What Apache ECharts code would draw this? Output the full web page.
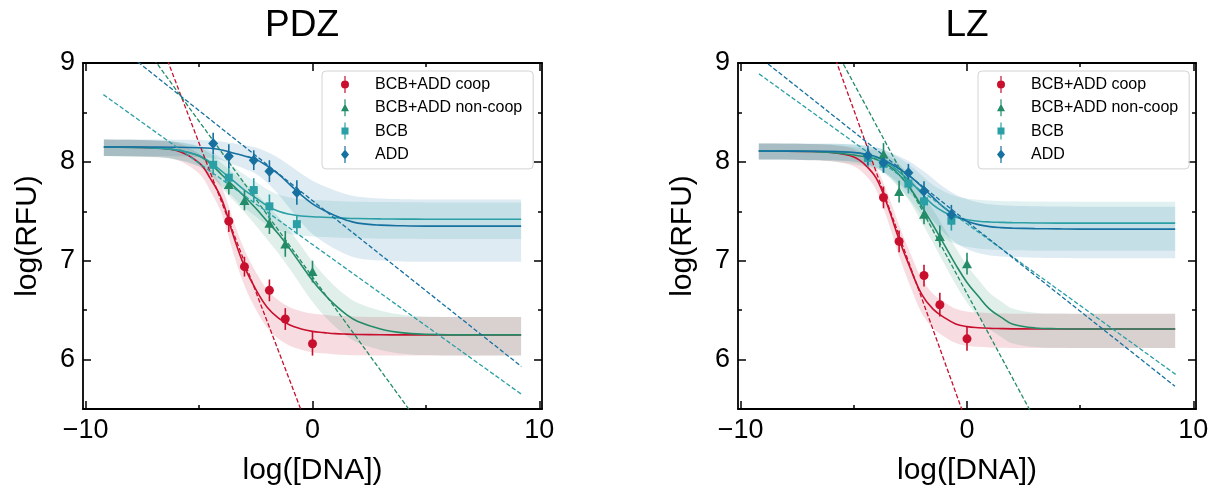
<!DOCTYPE html>
<html><head><meta charset="utf-8">
<script src="https://cdn.jsdelivr.net/npm/echarts@6/dist/echarts.min.js"></script>
<style>html,body{margin:0;padding:0;background:#fff}#c{width:1216px;height:493px}</style>
</head><body><div id="c"></div>
<script>
// ---------- labels ----------
const panelTitles = ['PDZ', 'LZ'];
const seriesNames = ['BCB+ADD coop', 'BCB+ADD non-coop', 'BCB', 'ADD'];
const xAxisTitle = 'log([DNA])';
const yAxisTitle = 'log(RFU)';
const xMajorTicks = [-10, 0, 10];
const xMinorTicks = [-5, 5];
const yMajorTicks = [6, 7, 8, 9];
const yMinorTicks = [6.5, 7.5, 8.5];

// ---------- measured points (x = log[DNA]) ----------
const conc5a = [-3.69, -3.0, -1.9, -1.2, 0];
const conc5b = [-4.38, -3.69, -2.59, -1.9, -0.69];

const pdzCoopY = [7.40, 6.94, 6.70, 6.41, 6.16];
const pdzCoopErr = [0.11, 0.10, 0.11, 0.11, 0.12];
const pdzNonCoopY = [7.77, 7.61, 7.38, 7.17, 6.89];
const pdzNonCoopErr = [0.10, 0.10, 0.11, 0.13, 0.11];
const pdzBcbY = [7.97, 7.84, 7.715, 7.55, 7.37];
const pdzBcbErr = [0.10, 0.11, 0.12, 0.12, 0.09];
const pdzAddY = [8.185, 8.057, 8.017, 7.906, 7.69];
const pdzAddErr = [0.11, 0.12, 0.10, 0.11, 0.125];

const lzCoopY = [7.64, 7.195, 6.85, 6.555, 6.21];
const lzCoopErr = [0.11, 0.11, 0.11, 0.12, 0.12];
const lzNonCoopY = [8.08, 7.70, 7.47, 7.245, 6.97];
const lzNonCoopErr = [0.11, 0.11, 0.10, 0.11, 0.11];
const lzBcbY = [8.04, 7.98, 7.78, 7.60, 7.405];
const lzBcbErr = [0.09, 0.09, 0.10, 0.10, 0.10];
const lzAddY = [8.065, 7.99, 7.89, 7.705, 7.465];
const lzAddErr = [0.10, 0.10, 0.09, 0.10, 0.10];

// ---------- fitted curves and confidence bands ----------
const fitX = [-9.2, -7, -6, -5, -4.5, -4, -3.5, -3, -2.5, -2, -1.5, -1, -0.5, 0, 0.5, 1, 1.5, 2, 3, 4, 5, 6, 9.2];

const pdzCoopFit   = [8.15, 8.14, 8.115, 7.99, 7.83, 7.62, 7.26, 6.94, 6.71, 6.53, 6.42, 6.35, 6.31, 6.285, 6.273, 6.262, 6.257, 6.254, 6.251, 6.25, 6.25, 6.25, 6.25];
const pdzCoopUpper = [8.225, 8.216, 8.194, 8.083, 7.939, 7.748, 7.414, 7.11, 6.887, 6.71, 6.60, 6.53, 6.49, 6.465, 6.453, 6.442, 6.437, 6.434, 6.431, 6.43, 6.43, 6.43, 6.43];
const pdzCoopLower = [8.06, 8.049, 8.021, 7.881, 7.703, 7.472, 7.084, 6.746, 6.507, 6.323, 6.211, 6.14, 6.10, 6.075, 6.063, 6.052, 6.047, 6.044, 6.041, 6.04, 6.04, 6.04, 6.04];

const pdzNonCoopFit   = [8.15, 8.14, 8.12, 8.06, 7.98, 7.87, 7.76, 7.65, 7.53, 7.40, 7.27, 7.12, 6.96, 6.80, 6.665, 6.55, 6.455, 6.385, 6.31, 6.27, 6.255, 6.25, 6.25];
const pdzNonCoopUpper = [8.225, 8.217, 8.20, 8.149, 8.081, 7.986, 7.889, 7.791, 7.683, 7.564, 7.443, 7.302, 7.148, 6.991, 6.856, 6.74, 6.643, 6.571, 6.493, 6.451, 6.435, 6.43, 6.43];
const pdzNonCoopLower = [8.06, 8.048, 8.025, 7.955, 7.863, 7.737, 7.613, 7.49, 7.357, 7.215, 7.074, 6.915, 6.748, 6.584, 6.447, 6.332, 6.238, 6.17, 6.098, 6.059, 6.045, 6.04, 6.04];

const pdzBcbFit   = [8.15, 8.14, 8.12, 8.065, 7.995, 7.905, 7.81, 7.715, 7.635, 7.555, 7.50, 7.47, 7.452, 7.445, 7.44, 7.435, 7.43, 7.427, 7.423, 7.421, 7.42, 7.42, 7.42];
const pdzBcbUpper = [8.225, 8.218, 8.203, 8.161, 8.107, 8.034, 7.954, 7.871, 7.798, 7.723, 7.669, 7.64, 7.622, 7.615, 7.61, 7.605, 7.60, 7.597, 7.593, 7.591, 7.59, 7.59, 7.59];
const pdzBcbLower = [8.06, 8.047, 8.022, 7.952, 7.865, 7.756, 7.644, 7.535, 7.447, 7.36, 7.302, 7.271, 7.252, 7.245, 7.24, 7.235, 7.23, 7.227, 7.223, 7.221, 7.22, 7.22, 7.22];

const pdzAddFit   = [8.15, 8.15, 8.148, 8.143, 8.137, 8.12, 8.09, 8.06, 8.025, 7.96, 7.875, 7.77, 7.665, 7.575, 7.51, 7.455, 7.41, 7.38, 7.36, 7.353, 7.35, 7.35, 7.35];
const pdzAddUpper = [8.225, 8.225, 8.224, 8.221, 8.217, 8.206, 8.187, 8.167, 8.144, 8.099, 8.04, 7.963, 7.882, 7.81, 7.757, 7.711, 7.672, 7.646, 7.629, 7.623, 7.62, 7.62, 7.62];
const pdzAddLower = [8.06, 8.06, 8.057, 8.05, 8.041, 8.016, 7.973, 7.93, 7.88, 7.788, 7.67, 7.527, 7.387, 7.271, 7.188, 7.119, 7.063, 7.026, 7.002, 6.993, 6.99, 6.99, 6.99];

const lzCoopFit   = [8.11, 8.105, 8.095, 8.05, 7.97, 7.83, 7.55, 7.215, 6.92, 6.66, 6.51, 6.425, 6.36, 6.333, 6.322, 6.316, 6.313, 6.311, 6.31, 6.31, 6.31, 6.31, 6.31];
const lzCoopUpper = [8.185, 8.181, 8.172, 8.131, 8.06, 7.933, 7.675, 7.359, 7.073, 6.817, 6.666, 6.58, 6.514, 6.486, 6.475, 6.469, 6.466, 6.464, 6.463, 6.463, 6.463, 6.463, 6.463];
const lzCoopLower = [8.023, 8.017, 8.006, 7.956, 7.866, 7.711, 7.404, 7.045, 6.736, 6.469, 6.317, 6.232, 6.167, 6.14, 6.129, 6.123, 6.12, 6.118, 6.117, 6.117, 6.117, 6.117, 6.117];

const lzNonCoopFit   = [8.11, 8.105, 8.095, 8.07, 8.05, 8.025, 7.97, 7.87, 7.73, 7.55, 7.36, 7.16, 6.96, 6.78, 6.64, 6.51, 6.43, 6.36, 6.32, 6.312, 6.31, 6.31, 6.31];
const lzNonCoopUpper = [8.185, 8.181, 8.172, 8.151, 8.134, 8.113, 8.066, 7.978, 7.855, 7.692, 7.516, 7.326, 7.131, 6.951, 6.809, 6.674, 6.59, 6.516, 6.474, 6.465, 6.463, 6.463, 6.463];
const lzNonCoopLower = [8.023, 8.017, 8.006, 7.976, 7.953, 7.924, 7.86, 7.746, 7.587, 7.387, 7.18, 6.967, 6.759, 6.576, 6.436, 6.309, 6.232, 6.165, 6.127, 6.119, 6.117, 6.117, 6.117];

const lzBcbFit   = [8.11, 8.108, 8.105, 8.095, 8.075, 8.05, 7.99, 7.90, 7.80, 7.68, 7.565, 7.49, 7.44, 7.415, 7.40, 7.392, 7.388, 7.385, 7.382, 7.38, 7.38, 7.38, 7.38];
const lzBcbUpper = [8.185, 8.184, 8.182, 8.175, 8.161, 8.144, 8.102, 8.036, 7.96, 7.863, 7.765, 7.698, 7.653, 7.63, 7.616, 7.609, 7.605, 7.602, 7.599, 7.597, 7.597, 7.597, 7.597];
const lzBcbLower = [8.023, 8.02, 8.016, 8.002, 7.974, 7.94, 7.858, 7.737, 7.607, 7.455, 7.315, 7.226, 7.168, 7.14, 7.123, 7.113, 7.108, 7.105, 7.102, 7.10, 7.10, 7.10, 7.10];

const lzAddFit   = [8.11, 8.108, 8.105, 8.095, 8.08, 8.05, 8.0, 7.93, 7.85, 7.75, 7.64, 7.535, 7.455, 7.40, 7.365, 7.345, 7.335, 7.33, 7.325, 7.322, 7.32, 7.32, 7.32];
const lzAddUpper = [8.185, 8.184, 8.182, 8.175, 8.165, 8.144, 8.108, 8.057, 7.997, 7.919, 7.83, 7.741, 7.67, 7.621, 7.589, 7.57, 7.561, 7.557, 7.552, 7.549, 7.547, 7.547, 7.547];
const lzAddLower = [8.023, 8.02, 8.016, 8.002, 7.981, 7.94, 7.872, 7.778, 7.673, 7.544, 7.406, 7.277, 7.182, 7.118, 7.077, 7.054, 7.043, 7.037, 7.031, 7.028, 7.026, 7.026, 7.026];

// ---------- dashed lines (two end points each) ----------
const pdzCoopDashX = [-6.5, -0.4],  pdzCoopDashY = [9.09, 5.426];
const pdzNonCoopDashX = [-7.0, 4.4], pdzNonCoopDashY = [9.04, 5.45];
const pdzBcbDashX = [-9.22, 9.21],  pdzBcbDashY = [8.68, 5.65];
const pdzAddDashX = [-7.7, 9.21],   pdzAddDashY = [9.01, 5.93];
const lzCoopDashX = [-5.9, -0.1],   lzCoopDashY = [9.095, 5.414];
const lzNonCoopDashX = [-5.6, 2.9], lzNonCoopDashY = [9.047, 5.436];
const lzBcbDashX = [-9.19, 9.22],   lzBcbDashY = [8.89, 5.85];
const lzAddDashX = [-8.79, 9.19],   lzAddDashY = [8.99, 5.73];

// ---------- styling ----------
const FONT = '"Liberation Sans", Arial, Helvetica, sans-serif';
const colors = ['#c8102e', '#238b67', '#2a9fa5', '#1670a0'];
const symbols = ['circle', 'triangle', 'rect', 'diamond'];
const symbolSizes = [9, [10, 9], 8, [10, 11]];
const legendIcons = [
  'path://M3.4,0H4.6V17H3.4Z M4,4.5A4,4 0 1 1 4,12.5A4,4 0 1 1 4,4.5Z',
  'path://M3.4,0H4.6V17H3.4Z M4,4.5L8,12L0,12Z',
  'path://M3.4,0H4.6V17H3.4Z M0.5,5H7.5V12H0.5Z',
  'path://M3.4,0H4.6V17H3.4Z M4,3.5L8,8.5L4,13.5L0,8.5Z'
];
const X_MIN = -10.12, X_MAX = 10.12, Y_MIN = 5.5, Y_MAX = 9.0;

const panels = [
  {
    pointsX: [conc5a, conc5a, conc5b, conc5b],
    pointsY: [pdzCoopY, pdzNonCoopY, pdzBcbY, pdzAddY],
    errs: [pdzCoopErr, pdzNonCoopErr, pdzBcbErr, pdzAddErr],
    fits: [pdzCoopFit, pdzNonCoopFit, pdzBcbFit, pdzAddFit],
    uppers: [pdzCoopUpper, pdzNonCoopUpper, pdzBcbUpper, pdzAddUpper],
    lowers: [pdzCoopLower, pdzNonCoopLower, pdzBcbLower, pdzAddLower],
    dashX: [pdzCoopDashX, pdzNonCoopDashX, pdzBcbDashX, pdzAddDashX],
    dashY: [pdzCoopDashY, pdzNonCoopDashY, pdzBcbDashY, pdzAddDashY]
  },
  {
    pointsX: [conc5a, conc5a, conc5b, conc5b],
    pointsY: [lzCoopY, lzNonCoopY, lzBcbY, lzAddY],
    errs: [lzCoopErr, lzNonCoopErr, lzBcbErr, lzAddErr],
    fits: [lzCoopFit, lzNonCoopFit, lzBcbFit, lzAddFit],
    uppers: [lzCoopUpper, lzNonCoopUpper, lzBcbUpper, lzAddUpper],
    lowers: [lzCoopLower, lzNonCoopLower, lzBcbLower, lzAddLower],
    dashX: [lzCoopDashX, lzNonCoopDashX, lzBcbDashX, lzAddDashX],
    dashY: [lzCoopDashY, lzNonCoopDashY, lzBcbDashY, lzAddDashY]
  }
];

const gridBoxes = [
  {left: 83, top: 63, width: 459, height: 346},
  {left: 738, top: 63, width: 458, height: 346}
];
const titleCenters = [302, 967];
const legendLefts = [322, 978];

const zip = (xs, ys) => xs.map((x, i) => [x, ys[i]]);
const fmt = v => (v < 0 ? '\u2212' + (-v) : String(v));

function makeAxes(gi, isX) {
  const min = isX ? X_MIN : Y_MIN, max = isX ? X_MAX : Y_MAX;
  const major = isX ? xMajorTicks : yMajorTicks, minor = isX ? xMinorTicks : yMinorTicks;
  const sides = isX ? ['bottom', 'top'] : ['left', 'right'];
  const out = [];
  sides.forEach((side, si) => {
    [major, minor].forEach((ticks, ti) => {
      const main = si === 0 && ti === 0;
      const ax = {
        type: 'value', gridIndex: gi, min: min, max: max, position: side,
        axisLine: {show: ti === 0, onZero: false, lineStyle: {color: '#000', width: 1.8}},
        axisTick: {show: true, inside: true, length: ti === 0 ? 8 : 4, customValues: ticks,
                   lineStyle: {color: '#000', width: 1.5}},
        axisLabel: {show: main, customValues: ticks, formatter: fmt, color: '#000',
                    fontSize: 27, fontFamily: FONT, margin: 8},
        splitLine: {show: false}, minorTick: {show: false}, minorSplitLine: {show: false},
        silent: true
      };
      if (main) {
        ax.name = isX ? xAxisTitle : yAxisTitle;
        ax.nameLocation = 'middle';
        ax.nameGap = isX ? 47 : 40;
        ax.nameTextStyle = {fontSize: 30, fontFamily: FONT, color: '#000'};
        if (!isX) ax.nameRotate = 90;
      }
      out.push(ax);
    });
  });
  return out;
}

const xAxes = [], yAxes = [], series = [];
panels.forEach((p, gi) => {
  xAxes.push(...makeAxes(gi, true));
  yAxes.push(...makeAxes(gi, false));
  const xi = gi * 4, yi = gi * 4;
  // confidence bands: one smooth polygon per series (upper edge out, lower edge back)
  for (let k = 0; k < 4; k++) {
    const up = p.uppers[k], lo = p.lowers[k], col = colors[k];
    const n = fitX.length;
    series.push({
      type: 'custom', name: 'band', xAxisIndex: xi, yAxisIndex: yi, silent: true, z: 1, clip: true,
      data: fitX.map((x, i) => [x, lo[i], up[i]]),
      encode: {x: 0, y: [1, 2]},
      renderItem: (params, api) => {
        if (params.dataIndex !== 0) return null;
        const pts = [];
        for (let i = 0; i < n; i++) {
          const c = api.coord([fitX[i], up[i]]);
          pts.push(c);
          if (i === 0 || i === n - 1) pts.push(c.slice());
        }
        for (let i = n - 1; i >= 0; i--) {
          const c = api.coord([fitX[i], lo[i]]);
          pts.push(c);
          if (i === 0 || i === n - 1) pts.push(c.slice());
        }
        return {type: 'polygon', shape: {points: pts, smooth: 0.35},
                style: {fill: col, opacity: 0.14}};
      }
    });
  }
  // fits
  for (let k = 0; k < 4; k++) {
    series.push({
      type: 'line', name: 'fit', xAxisIndex: xi, yAxisIndex: yi, data: zip(fitX, p.fits[k]),
      smooth: 0.4, symbol: 'none',
      lineStyle: {color: colors[k], width: 1.6}, silent: true, z: 3
    });
  }
  // dashed
  for (let k = 0; k < 4; k++) {
    series.push({
      type: 'line', name: 'dash', xAxisIndex: xi, yAxisIndex: yi, data: zip(p.dashX[k], p.dashY[k]),
      symbol: 'none', clip: true,
      lineStyle: {color: colors[k], width: 1.3, type: [4.5, 2.2]}, silent: true, z: 3
    });
  }
  // error bars + markers
  for (let k = 0; k < 4; k++) {
    const col = colors[k];
    series.push({
      type: 'custom', name: 'err', xAxisIndex: xi, yAxisIndex: yi, silent: true, z: 4,
      data: p.pointsX[k].map((x, i) => [x, p.pointsY[k][i], p.errs[k][i]]),
      encode: {x: 0, y: 1},
      renderItem: (params, api) => {
        const x = api.value(0), y = api.value(1), e = api.value(2);
        const a = api.coord([x, y - e]), b = api.coord([x, y + e]);
        return {type: 'line', shape: {x1: a[0], y1: a[1], x2: b[0], y2: b[1]},
                style: {stroke: col, lineWidth: 1.6}};
      }
    });
    series.push({
      type: 'scatter', name: seriesNames[k], xAxisIndex: xi, yAxisIndex: yi,
      data: zip(p.pointsX[k], p.pointsY[k]), symbol: symbols[k], symbolSize: symbolSizes[k],
      itemStyle: {color: col, opacity: 1}, silent: true, z: 5
    });
  }
});

const chart = echarts.init(document.getElementById('c'), null, {renderer: 'canvas'});
chart.setOption({
  animation: false,
  backgroundColor: '#fff',
  grid: gridBoxes.map(g => Object.assign({containLabel: false, outerBoundsMode: 'none'}, g)),
  xAxis: xAxes,
  yAxis: yAxes,
  legend: legendLefts.map(l => ({
    orient: 'vertical', left: l, top: 71, padding: [5, 11, 6, 19], itemGap: 6.3,
    itemWidth: 8, itemHeight: 17, selectedMode: false,
    backgroundColor: 'rgba(255,255,255,0.8)', borderColor: '#d3d3d3', borderWidth: 1, borderRadius: 4,
    data: seriesNames.map((n, i) => ({name: n, icon: legendIcons[i]})),
    textStyle: {fontSize: 16, fontFamily: FONT, color: '#000', padding: [0, 0, 0, 21]}
  })),
  graphic: panelTitles.map((t, i) => ({
    type: 'text', x: titleCenters[i], y: 7, silent: true,
    style: {text: t, align: 'center', verticalAlign: 'top', fontSize: 37, fontFamily: FONT, fill: '#000'}
  })),
  series: series
});
</script>
</body></html>
